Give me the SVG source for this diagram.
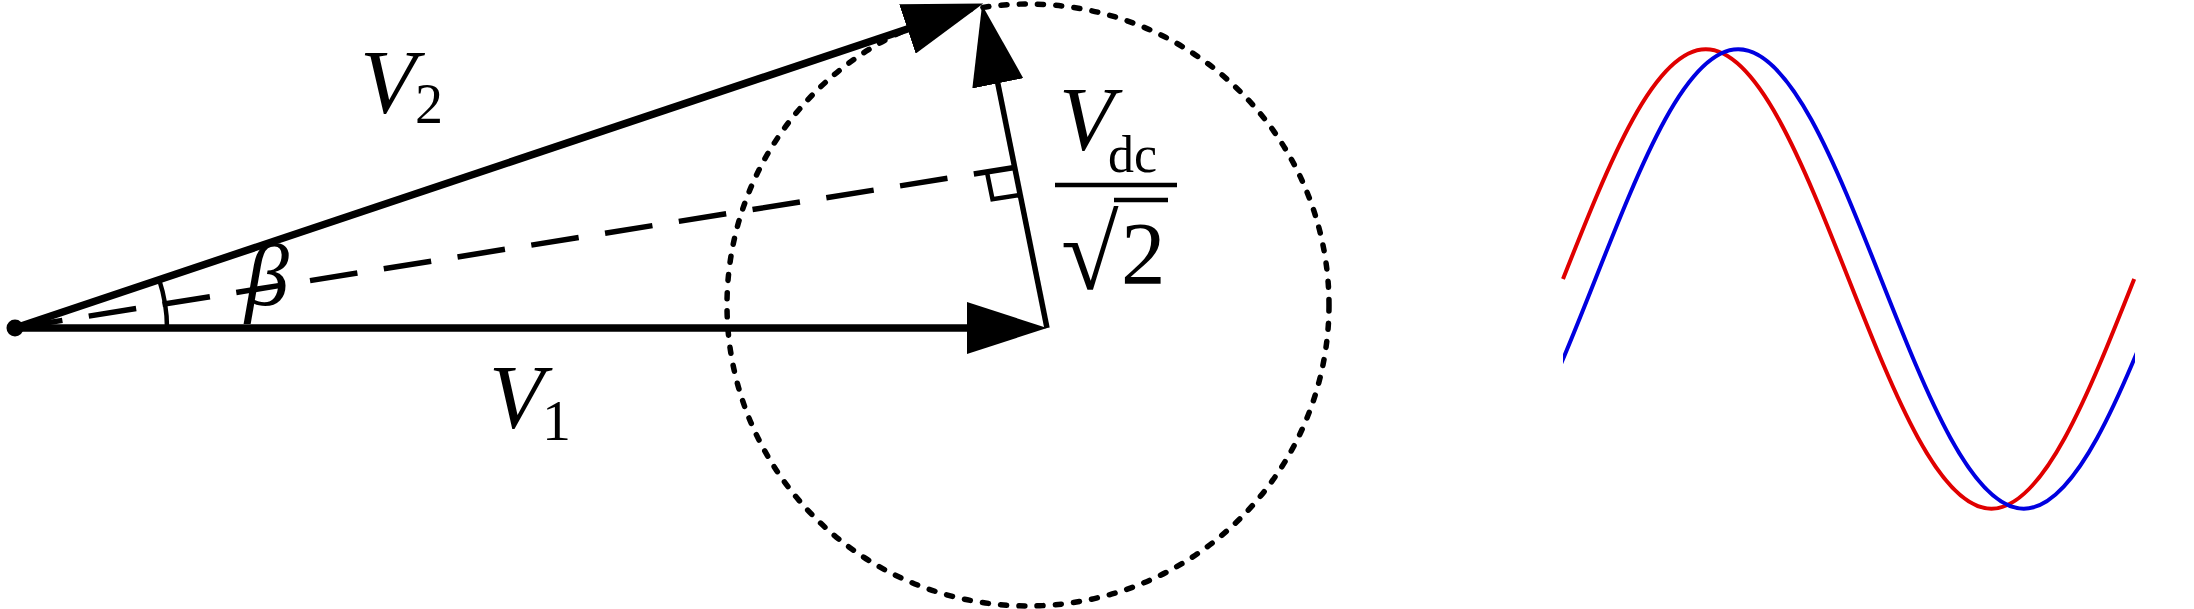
<svg xmlns="http://www.w3.org/2000/svg" width="2194" height="609" viewBox="0 0 2194 609">
<style>
.vec{stroke:#000;fill:none;stroke-linecap:butt}
.lbl{font-family:"Liberation Serif","Times New Roman",serif;fill:#000}
.it{font-style:italic}
.wave{fill:none;stroke-width:4}
</style>
<defs>
<marker id="ah" markerUnits="userSpaceOnUse" markerWidth="80" markerHeight="52" viewBox="0 0 80 52" refX="66" refY="26" orient="auto">
<path d="M0,0 L80,26 L0,52 z" fill="#000"/>
</marker>
<clipPath id="waveclip"><rect x="1563" y="0" width="572" height="609"/></clipPath>
</defs>
<rect width="2194" height="609" fill="#fff"/>

<g id="circle">
<circle cx="1028" cy="305" r="301" fill="none" stroke="#000" stroke-width="5.5" stroke-dasharray="6 12.3" stroke-linecap="round"/>
</g>

<g id="connectors">
<path id="v1" class="vec" stroke-width="7.5" d="M15,328 L1033,328" marker-end="url(#ah)"/>
<path id="v2" class="vec" stroke-width="7.5" d="M15,328 L970,8" marker-end="url(#ah)"/>
<path id="vdc" class="vec" stroke-width="5.5" d="M1047,328 L984.8,18.7" marker-end="url(#ah)"/>
<path id="bisector" class="vec" stroke-width="5.5" stroke-dasharray="48 26.7" d="M15,328 L1014.5,167.5"/>
<path id="rightangle" class="vec" stroke-width="4.5" d="M986.9,171.9 L992.5,199.3 L1020,195"/>
<path id="anglearc" class="vec" stroke-width="4.5" d="M159.2,279.9 A153,153 0 0 1 167,328"/>
<circle id="origin" cx="15" cy="328" r="8.5" fill="#000"/>
</g>

<g id="labels">
<g id="label-v2"><text class="lbl" x="360" y="112.7" font-size="92"><tspan class="it">V</tspan></text><text class="lbl" x="415" y="123.3" font-size="56">2</text></g>
<g id="label-v1"><text class="lbl" x="489" y="428" font-size="90"><tspan class="it">V</tspan></text><text class="lbl" x="542" y="440" font-size="58">1</text></g>
<g id="label-beta"><text class="lbl it" x="245" y="305" font-size="88">β</text></g>
<g id="label-vdc">
<text class="lbl it" x="1059" y="150" font-size="90">V</text>
<text class="lbl" x="1108" y="171.5" font-size="52">dc</text>
<line x1="1055" y1="185" x2="1177" y2="185" stroke="#000" stroke-width="4.5"/>
<text class="lbl" x="1061" y="289" font-size="105">√</text>
<line x1="1114" y1="200" x2="1168" y2="200" stroke="#000" stroke-width="4.5"/>
<text class="lbl" x="1121" y="283" font-size="89">2</text>
</g>
</g>

<g id="waves">
<path id="red-wave" class="wave" stroke="#e00000" d="M1563,279 c46.57,-117.67 91.12,-229.7 142.8,-229.7 c51.68,0 96.23,112.03 142.8,229.7 c46.57,117.67 91.12,229.7 142.8,229.7 c51.68,0 96.23,-112.03 142.8,-229.7"/>
<path id="blue-wave" class="wave" stroke="#0000e0" clip-path="url(#waveclip)" d="M1452.6,508.7 c51.68,0 96.23,-112.03 142.8,-229.7 c46.57,-117.67 91.12,-229.7 142.8,-229.7 c51.68,0 96.23,112.03 142.8,229.7 c46.57,117.67 91.12,229.7 142.8,229.7 c51.68,0 96.23,-112.03 142.8,-229.7"/>
</g>
</svg>
